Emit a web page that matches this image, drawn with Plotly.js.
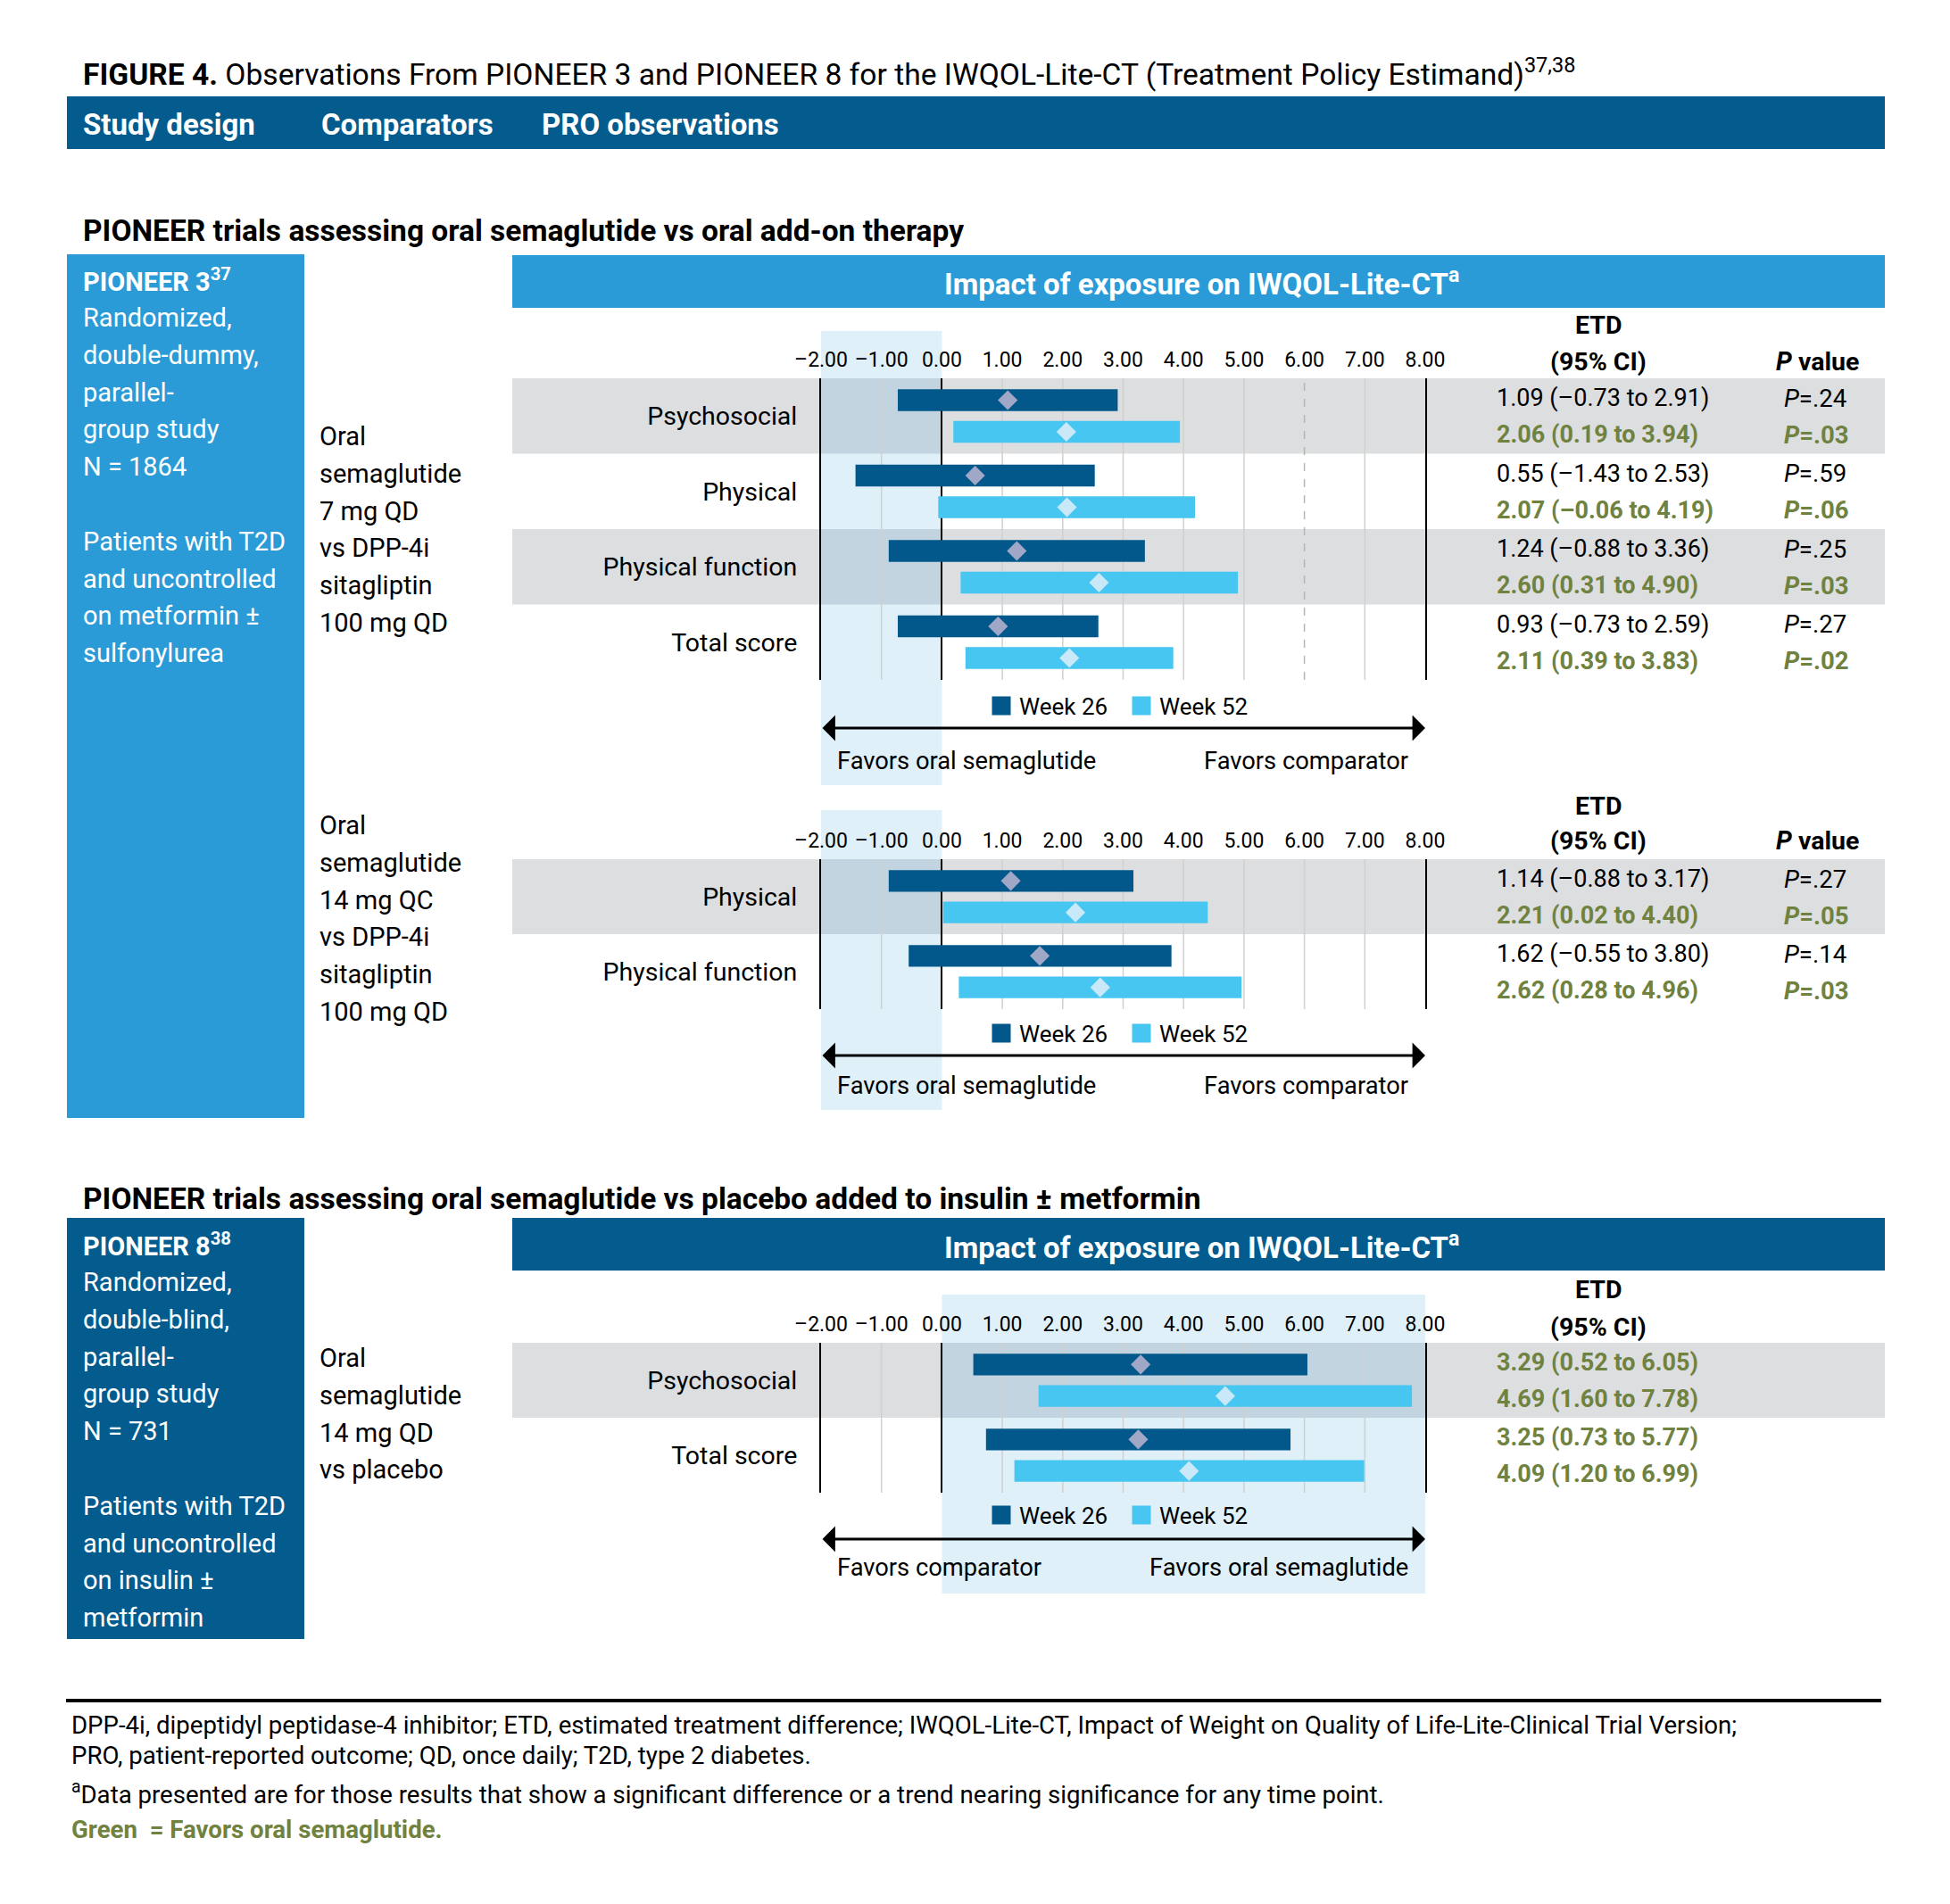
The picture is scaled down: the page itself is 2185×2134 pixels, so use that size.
<!DOCTYPE html>
<html><head><meta charset="utf-8">
<script src="https://cdn.plot.ly/plotly-3.0.1.min.js"></script>
<style>html,body{margin:0;padding:0;background:#fff}</style>
</head><body><div id="chart" style="width:2185px;height:2134px"></div>
<script>
// ---------------- DATA ----------------
const tickValues = [-2, -1, 0, 1, 2, 3, 4, 5, 6, 7, 8];

// Chart 1: PIONEER 3, oral semaglutide 7 mg
const c1Cats = ['Psychosocial', 'Physical', 'Physical function', 'Total score'];
const c1W26Est = [1.09, 0.55, 1.24, 0.93];
const c1W26Lo = [-0.73, -1.43, -0.88, -0.73];
const c1W26Hi = [2.91, 2.53, 3.36, 2.59];
const c1W52Est = [2.06, 2.07, 2.60, 2.11];
const c1W52Lo = [0.19, -0.06, 0.31, 0.39];
const c1W52Hi = [3.94, 4.19, 4.90, 3.83];
const c1W26P = ['.24', '.59', '.25', '.27'];
const c1W52P = ['.03', '.06', '.03', '.02'];
const c1W26Green = [false, false, false, false];
const c1W52Green = [true, true, true, true];

// Chart 2: PIONEER 3, oral semaglutide 14 mg
const c2Cats = ['Physical', 'Physical function'];
const c2W26Est = [1.14, 1.62];
const c2W26Lo = [-0.88, -0.55];
const c2W26Hi = [3.17, 3.80];
const c2W52Est = [2.21, 2.62];
const c2W52Lo = [0.02, 0.28];
const c2W52Hi = [4.40, 4.96];
const c2W26P = ['.27', '.14'];
const c2W52P = ['.05', '.03'];
const c2W26Green = [false, false];
const c2W52Green = [true, true];

// Chart 3: PIONEER 8, oral semaglutide 14 mg vs placebo
const c3Cats = ['Psychosocial', 'Total score'];
const c3W26Est = [3.29, 3.25];
const c3W26Lo = [0.52, 0.73];
const c3W26Hi = [6.05, 5.77];
const c3W52Est = [4.69, 4.09];
const c3W52Lo = [1.60, 1.20];
const c3W52Hi = [7.78, 6.99];
const c3W26Green = [true, true];
const c3W52Green = [true, true];

const seriesNames = ['Week 26', 'Week 52'];

// Text blocks
const headerLabels = ['Study design', 'Comparators', 'PRO observations'];
const pioneer3Title = 'PIONEER 3<sup>37</sup>';
const pioneer3Lines = ['Randomized,', 'double-dummy,', 'parallel-', 'group study', 'N = 1864', '', 'Patients with T2D', 'and uncontrolled', 'on metformin ±', 'sulfonylurea'];
const pioneer8Title = 'PIONEER 8<sup>38</sup>';
const pioneer8Lines = ['Randomized,', 'double-blind,', 'parallel-', 'group study', 'N = 731', '', 'Patients with T2D', 'and uncontrolled', 'on insulin ±', 'metformin'];
const comp1Lines = ['Oral', 'semaglutide', '7 mg QD', 'vs DPP-4i', 'sitagliptin', '100 mg QD'];
const comp2Lines = ['Oral', 'semaglutide', '14 mg QC', 'vs DPP-4i', 'sitagliptin', '100 mg QD'];
const comp3Lines = ['Oral', 'semaglutide', '14 mg QD', 'vs placebo'];
const footerLines = [
  'DPP-4i, dipeptidyl peptidase-4 inhibitor; ETD, estimated treatment difference; IWQOL-Lite-CT, Impact of Weight on Quality of Life-Lite-Clinical Trial Version;',
  'PRO, patient-reported outcome; QD, once daily; T2D, type 2 diabetes.',
  '<sup>a</sup>Data presented are for those results that show a significant difference or a trend nearing significance for any time point.'
];

// ---------------- LAYOUT HELPERS ----------------
const W = 2185, H = 2134;
const X = p => p / W, Y = p => 1 - p / H;
const FONT = 'Roboto, "Open Sans", sans-serif';
const DARK = '#035b8e', LIGHT = '#2a9bd6', BAR26 = '#03588b', BAR52 = '#46c6f1';
const DIA26 = '#a1a8c7', DIA52 = '#c9e8f8', GREY = '#dcdee0', GREEN = '#708240';
const fmt = v => (v < 0 ? '–' : '') + Math.abs(v).toFixed(2);

const charts = [
  {cats: c1Cats, e26: c1W26Est, l26: c1W26Lo, h26: c1W26Hi, e52: c1W52Est, l52: c1W52Lo, h52: c1W52Hi,
   p26: c1W26P, p52: c1W52P, g26: c1W26Green, g52: c1W52Green,
   top: 424, bottom: 762, shade: [-2, 0], shadeTop: 371, shadeBottom: 880, legendY: 791, arrowY: 816, favorsY: 853,
   favL: 'Favors oral semaglutide', favR: 'Favors comparator', etdY: 365, ciY: 405, dashed: 6},
  {cats: c2Cats, e26: c2W26Est, l26: c2W26Lo, h26: c2W26Hi, e52: c2W52Est, l52: c2W52Lo, h52: c2W52Hi,
   p26: c2W26P, p52: c2W52P, g26: c2W26Green, g52: c2W52Green,
   top: 963, bottom: 1131, shade: [-2, 0], shadeTop: 908, shadeBottom: 1244, legendY: 1158, arrowY: 1183, favorsY: 1217,
   favL: 'Favors oral semaglutide', favR: 'Favors comparator', etdY: 903, ciY: 943, dashed: null},
  {cats: c3Cats, e26: c3W26Est, l26: c3W26Lo, h26: c3W26Hi, e52: c3W52Est, l52: c3W52Lo, h52: c3W52Hi,
   p26: null, p52: null, g26: c3W26Green, g52: c3W52Green,
   top: 1505, bottom: 1673, shade: [0, 8], shadeTop: 1451, shadeBottom: 1786, legendY: 1698, arrowY: 1725, favorsY: 1757,
   favL: 'Favors comparator', favR: 'Favors oral semaglutide', etdY: 1445, ciY: 1487, dashed: null}
];

const traces = [];
const shapes = [];
const annotations = [];
const layout = {
  width: W, height: H, autosize: false,
  margin: {l: 0, r: 0, t: 0, b: 0},
  paper_bgcolor: '#ffffff', plot_bgcolor: 'rgba(0,0,0,0)',
  font: {family: FONT, color: '#000', size: 27},
  barmode: 'overlay', showlegend: true, hovermode: false
};

const rect = (x0, y0, x1, y1, color) => ({type: 'rect', xref: 'paper', yref: 'paper', x0: X(x0), x1: X(x1), y0: Y(y1), y1: Y(y0), fillcolor: color, line: {width: 0}, layer: 'below'});
const txt = (text, x, y, opts) => Object.assign({text: text, xref: 'paper', yref: 'paper', x: X(x), y: Y(y), showarrow: false, xanchor: 'left', yanchor: 'middle', font: {size: 27, color: '#000', family: FONT}}, opts || {});

// Top title and header bar
annotations.push(txt('<b>FIGURE 4.</b> Observations From PIONEER 3 and PIONEER 8 for the IWQOL-Lite-CT (Treatment Policy Estimand)<sup>37,38</sup>', 91, 81, {font: {size: 33.6, family: FONT, color: '#000'}}));
shapes.push(rect(75, 108, 2112, 167, DARK));
const headerX = [91, 358, 605];
headerLabels.forEach((h, i) => annotations.push(txt('<b>' + h + '</b>', headerX[i], 139, {font: {size: 33, color: '#fff', family: FONT}})));

// Section headings
annotations.push(txt('<b>PIONEER trials assessing oral semaglutide vs oral add-on therapy</b>', 91, 258, {font: {size: 33.5, family: FONT, color: '#000'}}));
annotations.push(txt('<b>PIONEER trials assessing oral semaglutide vs placebo added to insulin ± metformin</b>', 91, 1343, {font: {size: 33.5, family: FONT, color: '#000'}}));

// Left study design boxes
shapes.push(rect(75, 285, 341, 1253, LIGHT));
shapes.push(rect(75, 1365, 341, 1837, DARK));
annotations.push(txt('<b>' + pioneer3Title + '</b>', 91, 314, {font: {size: 29, color: '#fff', family: FONT}}));
pioneer3Lines.forEach((l, i) => { if (l) annotations.push(txt(l, 91, 356 + i * 41.8, {font: {size: 29, color: '#fff', family: FONT}})); });
annotations.push(txt('<b>' + pioneer8Title + '</b>', 91, 1395, {font: {size: 29, color: '#fff', family: FONT}}));
pioneer8Lines.forEach((l, i) => { if (l) annotations.push(txt(l, 91, 1437 + i * 41.8, {font: {size: 29, color: '#fff', family: FONT}})); });

// Comparator text
comp1Lines.forEach((l, i) => annotations.push(txt(l, 356, 489 + i * 41.8, {font: {size: 29, family: FONT, color: '#000'}})));
comp2Lines.forEach((l, i) => annotations.push(txt(l, 356, 925 + i * 41.8, {font: {size: 29, family: FONT, color: '#000'}})));
comp3Lines.forEach((l, i) => annotations.push(txt(l, 356, 1522 + i * 41.8, {font: {size: 29, family: FONT, color: '#000'}})));

// Impact headers
shapes.push(rect(574, 286, 2112, 345, LIGHT));
shapes.push(rect(574, 1365, 2112, 1424, DARK));
annotations.push(txt('<b>Impact of exposure on IWQOL-Lite-CT<sup>a</sup></b>', 1347, 316, {xanchor: 'center', font: {size: 33, color: '#fff', family: FONT}}));
annotations.push(txt('<b>Impact of exposure on IWQOL-Lite-CT<sup>a</sup></b>', 1347, 1396, {xanchor: 'center', font: {size: 33, color: '#fff', family: FONT}}));

// Charts
charts.forEach((c, k) => {
  const s = k === 0 ? '' : String(k + 1);
  const xa = 'x' + s, ya = 'y' + s;
  const n = c.cats.length;
  const idx = c.cats.map((_, i) => i);
  const off = 0.21;
  const legName = k === 0 ? 'legend' : 'legend' + (k + 1);

  layout['xaxis' + s] = {
    domain: [X(920), X(1597)], range: [-2, 8], side: 'top', anchor: ya,
    tickvals: tickValues, ticktext: tickValues.map(fmt), tickfont: {size: 23, family: FONT, color: '#000'},
    ticks: 'outside', ticklen: 3, tickcolor: 'rgba(0,0,0,0)',
    showgrid: false, zeroline: true, zerolinecolor: '#000', zerolinewidth: 2, showline: false, fixedrange: true
  };
  layout['yaxis' + s] = {
    domain: [Y(c.bottom), Y(c.top)], range: [n - 0.5, -0.5], anchor: xa,
    tickvals: idx, ticktext: c.cats, tickfont: {size: 28.5, family: FONT, color: '#000'},
    ticks: 'outside', ticklen: 19, tickcolor: 'rgba(0,0,0,0)',
    showline: true, mirror: true, linecolor: '#000', linewidth: 2, showgrid: false, zeroline: false, fixedrange: true
  };

  // grey bands
  idx.forEach(i => {
    if (i % 2 === 0) shapes.push({type: 'rect', xref: 'paper', yref: ya, x0: X(574), x1: X(2112), y0: i - 0.5, y1: i + 0.5, fillcolor: GREY, line: {width: 0}, layer: 'below'});
  });
  // favour shading
  shapes.push({type: 'rect', xref: xa, yref: 'paper', x0: c.shade[0], x1: c.shade[1], y0: Y(c.shadeBottom), y1: Y(c.shadeTop), fillcolor: 'rgba(67,167,220,0.17)', line: {width: 0}, layer: 'below'});
  // grid lines
  tickValues.forEach(t => {
    if (t === -2 || t === 0 || t === 8) return;
    const dashed = c.dashed === t;
    shapes.push({type: 'line', xref: xa, yref: ya + ' domain', x0: t, x1: t, y0: 0, y1: 1,
      line: {color: dashed ? '#b5b5b5' : '#d0d0d0', width: 1.5, dash: dashed ? 'dash' : 'solid'}, layer: 'below'});
  });

  // bars
  traces.push({type: 'bar', orientation: 'h', xaxis: xa, yaxis: ya, y: idx.map(i => i - off),
    base: c.l26, x: c.h26.map((h, i) => h - c.l26[i]), width: 0.29, marker: {color: BAR26, line: {width: 0}}, showlegend: false, hoverinfo: 'skip'});
  traces.push({type: 'bar', orientation: 'h', xaxis: xa, yaxis: ya, y: idx.map(i => i + off),
    base: c.l52, x: c.h52.map((h, i) => h - c.l52[i]), width: 0.29, marker: {color: BAR52, line: {width: 0}}, showlegend: false, hoverinfo: 'skip'});
  // diamonds
  traces.push({type: 'scatter', mode: 'markers', xaxis: xa, yaxis: ya, x: c.e26, y: idx.map(i => i - off),
    marker: {symbol: 'diamond', size: 17, color: DIA26, line: {width: 0}}, showlegend: false, hoverinfo: 'skip', cliponaxis: false});
  traces.push({type: 'scatter', mode: 'markers', xaxis: xa, yaxis: ya, x: c.e52, y: idx.map(i => i + off),
    marker: {symbol: 'diamond', size: 17, color: DIA52, line: {width: 0}}, showlegend: false, hoverinfo: 'skip', cliponaxis: false});
  // legend entries
  [BAR26, BAR52].forEach((col, j) => traces.push({type: 'scatter', mode: 'markers', xaxis: xa, yaxis: ya, x: [null], y: [null],
    name: seriesNames[j], legend: legName, marker: {symbol: 'square', size: 16, color: col, line: {color: col, width: 5}}, showlegend: true}));
  layout[legName] = {orientation: 'h', x: X(1102), y: Y(c.legendY), xanchor: 'left', yanchor: 'middle',
    font: {size: 26, family: FONT, color: '#000'}, bgcolor: 'rgba(0,0,0,0)', itemwidth: 30, traceorder: 'normal',
    entrywidth: 112, entrywidthmode: 'pixels', itemclick: false, itemdoubleclick: false};

  // arrow
  annotations.push({xref: xa, axref: xa, x: 8, ax: -2, yref: 'paper', ayref: 'pixel', y: Y(c.arrowY), ay: 0, text: '',
    showarrow: true, arrowhead: 1, arrowside: 'end+start', arrowsize: 1.6, arrowwidth: 3, arrowcolor: '#000'});
  annotations.push(txt(c.favL, 936, c.favorsY, {font: {size: 27.3, family: FONT, color: '#000'}}));
  annotations.push(txt(c.favR, 1580, c.favorsY, {xanchor: 'right', font: {size: 27.3, family: FONT, color: '#000'}}));

  // ETD table
  annotations.push(txt('<b>ETD</b>', 1791, c.etdY, {xanchor: 'center', font: {size: 28.5, family: FONT, color: '#000'}}));
  annotations.push(txt('<b>(95% CI)</b>', 1791, c.ciY, {xanchor: 'center', font: {size: 28.5, family: FONT, color: '#000'}}));
  if (c.p26) annotations.push(txt('<b><i>P</i> value</b>', 2036, c.ciY, {xanchor: 'center', font: {size: 28.5, family: FONT, color: '#000'}}));
  const rowText = (e, l, h) => fmt(e) + ' (' + fmt(l) + ' to ' + fmt(h) + ')';
  idx.forEach(i => {
    [[c.e26, c.l26, c.h26, c.p26, c.g26, -0.235], [c.e52, c.l52, c.h52, c.p52, c.g52, 0.25]].forEach(([e, l, h, p, g, dy]) => {
      const col = g[i] ? GREEN : '#000';
      const wrap = t => g[i] ? '<b>' + t + '</b>' : t;
      annotations.push({text: wrap(rowText(e[i], l[i], h[i])), xref: 'paper', yref: ya, x: X(1675), y: i + dy, xanchor: 'left', yanchor: 'middle',
        showarrow: false, font: {size: 27, family: FONT, color: col}});
      if (p) annotations.push({text: wrap('<i>P</i>=' + p[i]), xref: 'paper', yref: ya, x: X(1997), y: i + dy, xanchor: 'left', yanchor: 'middle',
        showarrow: false, font: {size: 27.5, family: FONT, color: col}});
    });
  });
});

// Footer
shapes.push({type: 'line', xref: 'paper', yref: 'paper', x0: X(74), x1: X(2108), y0: Y(1906), y1: Y(1906), line: {color: '#000', width: 4}});
const footY = [1933, 1967, 2009];
footerLines.forEach((l, i) => annotations.push(txt(l, 78, footY[i], {font: {size: 27.6, family: FONT, color: '#000'}})));
annotations.push(txt('<b>Green  = Favors oral semaglutide.</b>', 78, 2050, {font: {size: 27.6, family: FONT, color: GREEN}}));

layout.shapes = shapes;
layout.annotations = annotations;

Plotly.newPlot('chart', traces, layout, {staticPlot: true, displayModeBar: false});
</script>
</body></html>
